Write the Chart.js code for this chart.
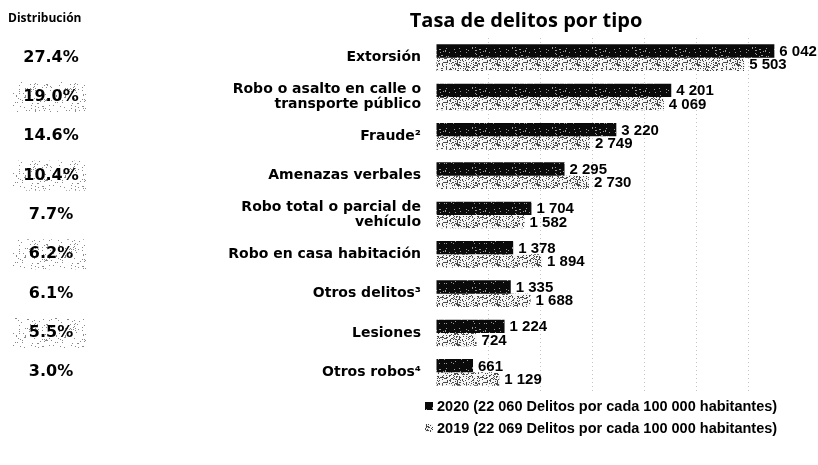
<!DOCTYPE html>
<html>
<head>
<meta charset="utf-8">
<script src="https://cdn.jsdelivr.net/npm/chart.js@4.4.1/dist/chart.umd.min.js"></script>
<style>
  html, body { margin: 0; padding: 0; background: #fff; }
  #wrap { width: 818px; height: 465px; position: relative; }
</style>
</head>
<body>
<div id="wrap"><canvas id="chart" width="818" height="465"></canvas></div>
<script>
// datos de la gráfica
const categories = [
    ['Extorsión'],
    ['Robo o asalto en calle o', 'transporte público'],
    ['Fraude²'],
    ['Amenazas verbales'],
    ['Robo total o parcial de', 'vehículo'],
    ['Robo en casa habitación'],
    ['Otros delitos³'],
    ['Lesiones'],
    ['Otros robos⁴']
];
const values2020 = [6042, 4201, 3220, 2295, 1704, 1378, 1335, 1224, 661];
const values2019 = [5503, 4069, 2749, 2730, 1582, 1894, 1688, 724, 1129];
const distribution = [27.4, 19.0, 14.6, 10.4, 7.7, 6.2, 6.1, 5.5, 3.0];
const seriesLabels = [
    '2020 (22 060 Delitos por cada 100 000 habitantes)',
    '2019 (22 069 Delitos por cada 100 000 habitantes)'
];
const chartTitle = 'Tasa de delitos por tipo';
const distTitle = 'Distribución';

// textura punteada (como la impresión escaneada), hash fijo
function hash(x, y, s) {
    let h = Math.imul(x + 374761393 * s, 668265263) ^ Math.imul(y, 2246822519);
    h = Math.imul(h ^ (h >>> 13), 3266489917);
    h ^= h >>> 16;
    return (h >>> 0) % 100;
}
function makePattern(base, dot, density, seed) {
    const c = document.createElement('canvas');
    c.width = 40; c.height = 40;
    const g = c.getContext('2d');
    g.fillStyle = base;
    g.fillRect(0, 0, 40, 40);
    g.fillStyle = dot;
    for (let y = 0; y < 40; y++) {
        for (let x = 0; x < 40; x++) {
            if (hash(x, y, seed) < density) g.fillRect(x, y, 1, 1);
        }
    }
    return g.createPattern(c, 'repeat');
}

const ctx0 = document.getElementById('chart').getContext('2d');
const fill2020 = makePattern('#0a0a0a', '#9a9a9a', 6, 1);
const fill2019 = makePattern('#f6f6f6', '#4a4a4a', 28, 2);
const fillBox = makePattern('#ffffff', '#8a8a8a', 7, 3);

function fmt(v) {
    return String(v).replace(/\B(?=(\d{3})+(?!\d))/g, ' ');
}

// títulos, columna de distribución, etiquetas de valor y leyenda
const extras = {
    id: 'extras',
    afterDatasetsDraw(chart) {
        const ctx = chart.ctx;
        const y = chart.scales.y;
        ctx.save();

        // etiquetas de valor
        ctx.font = 'bold 15px "Liberation Sans", Arial, sans-serif';
        ctx.fillStyle = '#000';
        ctx.textAlign = 'left';
        ctx.textBaseline = 'middle';
        chart.data.datasets.forEach((ds, i) => {
            chart.getDatasetMeta(i).data.forEach((bar, j) => {
                ctx.fillText(fmt(ds.data[j]), bar.x + 5, bar.y + 1);
            });
        });

        // título
        ctx.font = 'bold 20px "Open Sans", sans-serif';
        ctx.textAlign = 'center';
        ctx.textBaseline = 'alphabetic';
        ctx.fillText(chartTitle, 526, 27);

        // columna de distribución
        ctx.font = 'bold 12px "Open Sans", sans-serif';
        ctx.textAlign = 'left';
        ctx.fillText(distTitle, 8, 22);
        ctx.font = 'bold 16px "DejaVu Sans", sans-serif';
        ctx.textAlign = 'center';
        ctx.textBaseline = 'middle';
        distribution.forEach((d, i) => {
            const py = y.getPixelForValue(i);
            if (i % 2 === 1) {
                ctx.fillStyle = fillBox;
                ctx.fillRect(13, py - 15, 73, 30);
            }
            ctx.fillStyle = '#000';
            ctx.fillText(d.toFixed(1) + '%', 51, py);
        });

        // leyenda
        ctx.font = 'bold 14.5px "Liberation Sans", Arial, sans-serif';
        ctx.textAlign = 'left';
        const fills = [fill2020, fill2019];
        seriesLabels.forEach((lab, i) => {
            const ly = 406 + i * 22;
            ctx.fillStyle = fills[i];
            ctx.fillRect(425, ly - 4, 8, 8);
            ctx.fillStyle = '#000';
            ctx.fillText(lab, 437, ly + 1);
        });
        ctx.restore();
    }
};

new Chart(ctx0, {
    type: 'bar',
    data: {
        labels: categories,
        datasets: [
            {
                label: seriesLabels[0],
                data: values2020,
                backgroundColor: fill2020,
                borderWidth: 0
            },
            {
                label: seriesLabels[1],
                data: values2019,
                backgroundColor: fill2019,
                borderWidth: 0
            }
        ]
    },
    options: {
        indexAxis: 'y',
        responsive: false,
        animation: false,
        layout: { padding: { top: 38, bottom: 73, left: 0, right: 18 } },
        datasets: { bar: { categoryPercentage: 0.68, barPercentage: 1.0 } },
        scales: {
            x: {
                min: 0,
                max: 6500,
                ticks: { display: false, stepSize: 1000 },
                grid: {
                    drawTicks: false,
                    color: ctx => ctx.tick && ctx.tick.value > 0 && ctx.tick.value < 6500 ? '#c4c4c4' : 'rgba(0,0,0,0)',
                    lineWidth: 1
                },
                border: { display: false, dash: [1, 3] },
                afterFit: s => { s.height = 0; }
            },
            y: {
                grid: { display: false, drawTicks: false },
                border: { display: false },
                ticks: {
                    color: '#000',
                    padding: 15,
                    font: { family: '"DejaVu Sans", sans-serif', size: 14, weight: 'bold', lineHeight: 1.05 }
                },
                afterFit: s => { s.width = 436; }
            }
        },
        plugins: {
            legend: { display: false },
            tooltip: { enabled: false }
        }
    },
    plugins: [extras]
});
</script>
</body>
</html>
